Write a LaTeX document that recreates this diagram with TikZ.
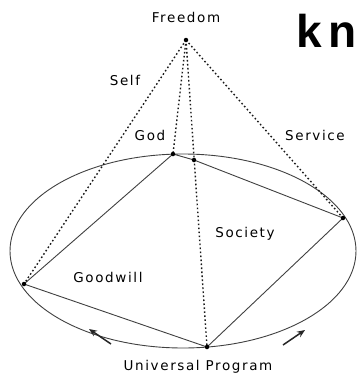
\documentclass[tikz,border=0pt]{standalone}
\usepackage{fontspec}
\usetikzlibrary{arrows.meta}
\newfontfamily\wordfont[LetterSpace=12]{DejaVu Sans}
\newfontfamily\headfont[LetterSpace=14]{Liberation Sans}
\begin{document}
\begin{tikzpicture}[x=1pt, y=-1pt,
      word/.style={font=\wordfont\fontsize{13.5}{15}\selectfont, text=black, inner sep=0pt},
      chord/.style={black!75, line width=0.9pt},
      ray/.style={black!90, line width=1.4pt, dash pattern=on 1.6pt off 2.4pt},
      vertex/.style={circle, fill=black, inner sep=0pt, minimum size=4.5pt},
      drift/.style={-{Stealth[length=8pt,width=6.5pt]}, line width=1.5pt, black!85}
    ]
    \useasboundingbox (0,0) rectangle (359,381);

    % Points of the figure
    \coordinate (free) at (186,40);
    \coordinate (god)  at (173,154);
    \coordinate (top)  at (194,160);
    \coordinate (serv) at (343,218);
    \coordinate (good) at (24,284);
    \coordinate (prog) at (207,347);

    % Ellipse and solid chords
    \draw[chord] (183,251) ellipse [x radius=173pt, y radius=97pt];
    \draw[chord] (good)--(god)--(top)--(serv)--(prog)--(good);

    % Dotted rays from freedom
    \draw[ray] (free)--(good);
    \draw[ray] (free)--(god);
    \draw[ray] (free)--(prog);
    \draw[ray] (free)--(serv);

    \foreach \p in {free,god,top,serv,good,prog}
      \node[vertex] at (\p) {};

    % Labels
    \node[word] (freedom) at (186,17) {Freedom};
    \node[word] (self) at (125,80) {Self};
    \node[word] (godl) at (150,135) {God};
    \node[word] (service) at (315,135) {Service};
    \node[word] (society) at (245,234) {Society};
    \node[word] (goodwill) at (108,277) {Goodwill};
    \node[word] (universal) at (198,367) {Universal Program};
    \node[font=\headfont\bfseries\fontsize{46}{46}\selectfont, anchor=base west,
      inner sep=0pt] (kn) at (296,47) {kn};

    % Arrows of the program
    \coordinate (lt) at (111,344);
    \coordinate (lh) at (89,329);
    \coordinate (rt) at (283,345);
    \coordinate (rh) at (305,330);
    \draw[drift] (lt)--(lh);
    \draw[drift] (rt)--(rh);
  \end{tikzpicture}
\end{document}
